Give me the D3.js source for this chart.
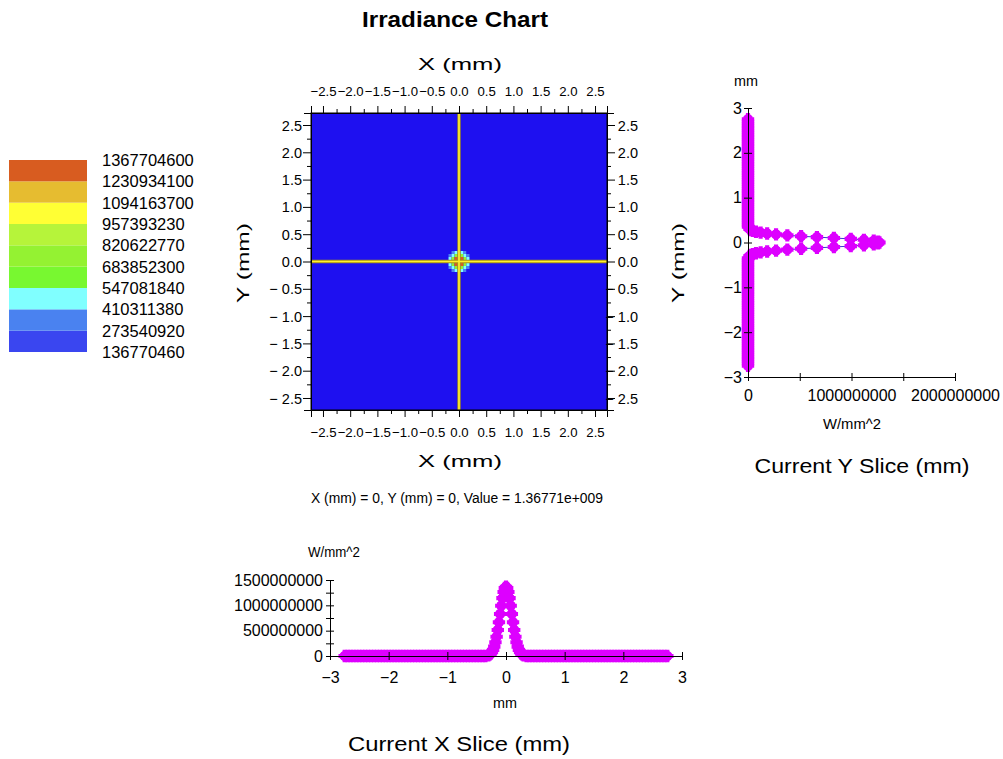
<!DOCTYPE html>
<html><head><meta charset="utf-8">
<script src="https://cdn.jsdelivr.net/npm/d3@7"></script>
<style>body{margin:0;background:#fff} svg{display:block} text{font-family:"Liberation Sans",Arial,sans-serif;fill:#000}</style>
</head><body><svg id="c" width="1003" height="759"></svg>
<script>
// ---------- DATA ----------
const legendTicks = [136770460, 273540920, 410311380, 547081840, 683852300, 820622770, 957393230, 1094163700, 1230934100, 1367704600];
const legendColors = ["#3a46f0", "#4a82f0", "#80ffff", "#78f830", "#94f232", "#b6f43a", "#ffff34", "#e6bc30", "#d85c20"];
const backgroundColor = "#1e10f0";
const heatTicks = [-2.5, -2.25, -2, -1.75, -1.5, -1.25, -1, -0.75, -0.5, -0.25, 0, 0.25, 0.5, 0.75, 1, 1.25, 1.5, 1.75, 2, 2.25, 2.5];
const heatLabels = [-2.5, -2, -1.5, -1, -0.5, 0, 0.5, 1, 1.5, 2, 2.5];
const valueUnit = 1e6; // values below are in millions of W/mm^2
const spotCoords = [-0.165, -0.11, -0.055, 0, 0.055, 0.11, 0.165];
const spotValues = [
  [0, 300, 450, 480, 450, 300, 0],
  [300, 520, 700, 760, 700, 520, 300],
  [450, 700, 1300, 1100, 1300, 700, 450],
  [480, 760, 1100, 1368, 1100, 760, 480],
  [450, 700, 1300, 1100, 1300, 700, 450],
  [300, 520, 700, 760, 700, 520, 300],
  [0, 300, 450, 480, 450, 300, 0]
];
const slicePositions = [
  -2.75, -2.70, -2.65, -2.60, -2.55, -2.50, -2.45, -2.40, -2.35, -2.30,
  -2.25, -2.20, -2.15, -2.10, -2.05, -2.00, -1.95, -1.90, -1.85, -1.80,
  -1.75, -1.70, -1.65, -1.60, -1.55, -1.50, -1.45, -1.40, -1.35, -1.30,
  -1.25, -1.20, -1.15, -1.10, -1.05, -1.00, -0.95, -0.90, -0.85, -0.80,
  -0.75, -0.70, -0.65, -0.60, -0.55, -0.50, -0.45, -0.40, -0.35,
  -0.30, -0.28, -0.26, -0.24, -0.22, -0.20, -0.18, -0.16, -0.14, -0.12, -0.10, -0.08, -0.06, -0.04, -0.02, 0,
  0.02, 0.04, 0.06, 0.08, 0.10, 0.12, 0.14, 0.16, 0.18, 0.20, 0.22, 0.24, 0.26, 0.28, 0.30,
  0.35, 0.40, 0.45, 0.50, 0.55, 0.60, 0.65, 0.70, 0.75, 0.80,
  0.85, 0.90, 0.95, 1.00, 1.05, 1.10, 1.15, 1.20, 1.25, 1.30,
  1.35, 1.40, 1.45, 1.50, 1.55, 1.60, 1.65, 1.70, 1.75, 1.80,
  1.85, 1.90, 1.95, 2.00, 2.05, 2.10, 2.15, 2.20, 2.25, 2.30,
  2.35, 2.40, 2.45, 2.50, 2.55, 2.60, 2.65, 2.70, 2.75
];
const xSliceValues = [
  0, 0, 0, 0, 0, 0, 0, 0, 0, 0,
  0, 0, 0, 0, 0, 0, 0, 0, 0, 0,
  0, 0, 0, 0, 0, 0, 0, 0, 0, 0,
  0, 0, 0, 0, 0, 0, 0, 0, 0, 0,
  0, 0, 0, 0, 0, 0, 0, 0, 0,
  15, 27, 47, 77, 122, 185, 271, 380, 513, 666, 830, 993, 1142, 1263, 1341, 1368,
  1341, 1263, 1142, 993, 830, 666, 513, 380, 271, 185, 122, 77, 47, 27, 15,
  0, 0, 0, 0, 0, 0, 0, 0, 0, 0,
  0, 0, 0, 0, 0, 0, 0, 0, 0, 0,
  0, 0, 0, 0, 0, 0, 0, 0, 0, 0,
  0, 0, 0, 0, 0, 0, 0, 0, 0, 0,
  0, 0, 0, 0, 0, 0, 0, 0, 0
];
const ySliceValues = [
  0, 0, 0, 0, 0, 0, 0, 0, 0, 0,
  0, 0, 0, 0, 0, 0, 0, 0, 0, 0,
  0, 0, 0, 0, 0, 0, 0, 0, 0, 0,
  0, 0, 0, 0, 0, 0, 0, 0, 0, 0,
  0, 0, 0, 0, 0, 0, 0, 0, 0,
  15, 27, 47, 77, 122, 185, 271, 380, 513, 666, 830, 993, 1120, 1215, 1258, 1270,
  1258, 1215, 1120, 993, 830, 666, 513, 380, 271, 185, 122, 77, 47, 27, 15,
  0, 0, 0, 0, 0, 0, 0, 0, 0, 0,
  0, 0, 0, 0, 0, 0, 0, 0, 0, 0,
  0, 0, 0, 0, 0, 0, 0, 0, 0, 0,
  0, 0, 0, 0, 0, 0, 0, 0, 0, 0,
  0, 0, 0, 0, 0, 0, 0, 0, 0
];
const ySliceXTicks = [0, 500000000, 1000000000, 1500000000, 2000000000];
const ySliceXLabels = [0, 1000000000, 2000000000];
const ySliceYTicks = [-3, -2, -1, 0, 1, 2, 3];
const xSliceXTicks = [-3, -2, -1, 0, 1, 2, 3];
const xSliceYTicks = [0, 250000000, 500000000, 750000000, 1000000000, 1250000000, 1500000000];
const xSliceYLabels = [0, 500000000, 1000000000, 1500000000];
const cursorX = 0, cursorY = 0, cursorValue = 1.36771e9;

// ---------- DRAW ----------
const svg = d3.select("#c");
svg.append("rect").attr("width", 1003).attr("height", 759).attr("fill", "#fff");
const magenta = "#dd00ff";

svg.append("text").attr("x", 455).attr("y", 27).attr("text-anchor", "middle")
  .attr("font-size", 22).attr("font-weight", "bold").attr("textLength", 186).attr("lengthAdjust", "spacingAndGlyphs")
  .text("Irradiance Chart");

// legend
const ly = d3.scaleLinear().domain([legendTicks[0], legendTicks[legendTicks.length - 1]]).range([352, 160]);
const lg = svg.append("g");
lg.selectAll("rect").data(legendColors).join("rect")
  .attr("x", 9).attr("width", 78)
  .attr("y", (c, i) => ly(legendTicks[i + 1]))
  .attr("height", (c, i) => ly(legendTicks[i]) - ly(legendTicks[i + 1]))
  .attr("fill", c => c);
lg.selectAll("text").data(legendTicks).join("text")
  .attr("x", 102).attr("y", d => ly(d)).attr("dy", "0.36em")
  .attr("font-size", 16.5).text(d => d);

// heatmap
const heatColor = d3.scaleThreshold().domain(legendTicks.slice(0, 9)).range([backgroundColor, ...legendColors]);
const hx = d3.scaleLinear().domain([-2.72, 2.72]).range([311, 607]);
const hy = d3.scaleLinear().domain([-2.72, 2.72]).range([410, 113]);
const hg = svg.append("g");
hg.append("rect").attr("x", hx(-2.72)).attr("y", hy(2.72))
  .attr("width", hx(2.72) - hx(-2.72)).attr("height", hy(-2.72) - hy(2.72))
  .attr("fill", heatColor(0));
const half = 0.0275;
const cells = [];
spotValues.forEach((row, ri) => row.forEach((v, ci) => cells.push({ x: spotCoords[ci], y: spotCoords[ri], v })));
hg.selectAll("rect.cell").data(cells).join("rect").attr("class", "cell")
  .attr("x", d => hx(d.x - half)).attr("y", d => hy(d.y + half))
  .attr("width", d => hx(d.x + half) - hx(d.x - half)).attr("height", d => hy(d.y - half) - hy(d.y + half))
  .attr("fill", d => heatColor(d.v * valueUnit));
[["#a89218", 3.4], ["#fff030", 1.7]].forEach(([col, w]) => {
  hg.append("line").attr("x1", hx(cursorX)).attr("x2", hx(cursorX)).attr("y1", hy(2.72)).attr("y2", hy(-2.72))
    .attr("stroke", col).attr("stroke-width", w);
  hg.append("line").attr("x1", hx(-2.72)).attr("x2", hx(2.72)).attr("y1", hy(cursorY)).attr("y2", hy(cursorY))
    .attr("stroke", col).attr("stroke-width", w);
});
hg.append("rect").attr("x", hx(-2.72)).attr("y", hy(2.72))
  .attr("width", hx(2.72) - hx(-2.72)).attr("height", hy(-2.72) - hy(2.72))
  .attr("fill", "none").attr("stroke", "#000");

const isMajor = d => heatLabels.some(l => Math.abs(l - d) < 1e-9);
const fmtTB = d => (d < 0 ? "\u2212" : "") + Math.abs(d).toFixed(1);
const fmtLR = d => (d < 0 ? "\u2212 " : "") + Math.abs(d).toFixed(1);

function styleAxis(g, size) {
  g.select(".domain").attr("stroke", "#000");
  g.selectAll(".tick line").attr("stroke", "#000");
  g.selectAll("text").attr("font-size", size || 14).attr("fill", "#000").attr("font-family", "Liberation Sans, Arial, sans-serif");
}
const topAx = svg.append("g").attr("transform", "translate(0,113)")
  .call(d3.axisTop(hx).tickValues(heatTicks).tickSizeOuter(0).tickSize(7).tickFormat(d => isMajor(d) ? fmtTB(d) : ""));
topAx.selectAll(".tick line").attr("y2", d => isMajor(d) ? -7 : -4);
topAx.selectAll("text").attr("y", -17).attr("dy", "0");
styleAxis(topAx, 13.2);
const botAx = svg.append("g").attr("transform", "translate(0,410)")
  .call(d3.axisBottom(hx).tickValues(heatTicks).tickSizeOuter(0).tickSize(7).tickFormat(d => isMajor(d) ? fmtTB(d) : ""));
botAx.selectAll(".tick line").attr("y2", d => isMajor(d) ? 7 : 4);
botAx.selectAll("text").attr("y", 27).attr("dy", "0");
styleAxis(botAx, 13.2);
const leftAx = svg.append("g").attr("transform", "translate(311,0)")
  .call(d3.axisLeft(hy).tickValues(heatTicks).tickSizeOuter(0).tickSize(7).tickFormat(d => isMajor(d) ? fmtLR(d) : ""));
leftAx.selectAll(".tick line").attr("x2", d => isMajor(d) ? -8 : -4);
leftAx.selectAll("text").attr("x", -9).attr("dy", "0.35em").attr("text-anchor", "end");
styleAxis(leftAx, 14.5);
const rightAx = svg.append("g").attr("transform", "translate(607,0)")
  .call(d3.axisRight(hy).tickValues(heatTicks).tickSizeOuter(0).tickSize(7).tickFormat(d => isMajor(d) ? fmtLR(d) : ""));
rightAx.selectAll(".tick line").attr("x2", d => isMajor(d) ? 8 : 4);
rightAx.selectAll("text").attr("x", 31).attr("dy", "0.35em").attr("text-anchor", "end");
styleAxis(rightAx, 14.5);

function label(x, y, txt, size, len, rot) {
  const t = svg.append("text").attr("text-anchor", "middle").attr("font-size", size)
    .attr("textLength", len).attr("lengthAdjust", "spacingAndGlyphs").text(txt);
  if (rot) t.attr("transform", `translate(${x},${y}) rotate(-90)`);
  else t.attr("x", x).attr("y", y);
  return t;
}
label(460, 70, "X (mm)", 17, 84);
label(460, 467, "X (mm)", 17, 84);
label(249, 263, "Y (mm)", 17, 80, true);
label(684, 263, "Y (mm)", 17, 80, true);

const expFmt = v => { const [m, e] = v.toExponential(5).split("e"); return m + "e" + e[0] + e.slice(1).padStart(3, "0"); };
label(457, 503, `X (mm) = ${cursorX}, Y (mm) = ${cursorY}, Value = ${expFmt(cursorValue)}`, 14, 292);

function drawMarkers(g, pts) {
  const cross = d3.symbol(d3.symbolCross, 85)();
  const m = g.selectAll("g.m").data(pts).join("g").attr("class", "m")
    .attr("transform", d => `translate(${d[0]},${d[1]})`);
  m.append("circle").attr("r", 4.8).attr("fill", magenta);
  m.append("path").attr("d", cross).attr("fill", magenta);
  m.append("path").attr("d", d3.symbol(d3.symbolCross, 55)()).attr("transform", "rotate(45)").attr("fill", magenta);
}

// Y slice
const yx = d3.scaleLinear().domain([0, 2e9]).range([748, 955]);
const yy = d3.scaleLinear().domain([-3, 3]).range([377, 108]);
const ys = svg.append("g");
const yPts = slicePositions.map((p, i) => [yx(ySliceValues[i] * valueUnit), yy(p)]);
ys.append("path").attr("d", d3.line()(yPts)).attr("fill", "none").attr("stroke", "#3a3ad0").attr("stroke-width", 1);
drawMarkers(ys, yPts);
const ysx = svg.append("g").attr("transform", "translate(0,377)")
  .call(d3.axisBottom(yx).tickValues(ySliceXTicks).tickSize(4).tickSizeOuter(0)
    .tickFormat(d => ySliceXLabels.includes(d) ? d3.format("d")(d) : ""));
ysx.selectAll(".tick line").attr("y1", -4);
ysx.selectAll("text").attr("y", 13).attr("dy", "0.71em");
styleAxis(ysx, 16);
const ysy = svg.append("g").attr("transform", "translate(748,0)")
  .call(d3.axisLeft(yy).tickValues(ySliceYTicks).tickSize(4).tickSizeOuter(0).tickFormat(d3.format("d")));
ysy.selectAll(".tick line").attr("x1", 4);
ysy.selectAll("text").attr("x", -6);
styleAxis(ysy, 16);
label(746, 86, "mm", 14, 24);
label(852, 429, "W/mm^2", 14, 58);
label(862, 473, "Current Y Slice (mm)", 20, 215);

// X slice
const xx = d3.scaleLinear().domain([-3, 3]).range([330, 682]);
const xy = d3.scaleLinear().domain([0, 1.5e9]).range([656, 580]);
const xs = svg.append("g");
const xPts = slicePositions.map((p, i) => [xx(p), xy(xSliceValues[i] * valueUnit)]);
xs.append("path").attr("d", d3.line()(xPts)).attr("fill", "none").attr("stroke", "#3a3ad0").attr("stroke-width", 1);
drawMarkers(xs, xPts);
const xsx = svg.append("g").attr("transform", "translate(0,656)")
  .call(d3.axisBottom(xx).tickValues(xSliceXTicks).tickSize(4).tickSizeOuter(0).tickFormat(d3.format("d")));
xsx.selectAll(".tick line").attr("y1", -4);
xsx.selectAll("text").attr("y", 16).attr("dy", "0.71em");
styleAxis(xsx, 16);
const xsy = svg.append("g").attr("transform", "translate(330,0)")
  .call(d3.axisLeft(xy).tickValues(xSliceYTicks).tickSize(4).tickSizeOuter(0)
    .tickFormat(d => xSliceYLabels.includes(d) ? d3.format("d")(d) : ""));
xsy.selectAll(".tick line").attr("x1", 4);
xsy.selectAll("text").attr("x", -7);
styleAxis(xsy, 16);
label(334, 557, "W/mm^2", 14, 52);
label(505, 708, "mm", 14, 24);
label(459, 751, "Current X Slice (mm)", 20, 222);
</script></body></html>
